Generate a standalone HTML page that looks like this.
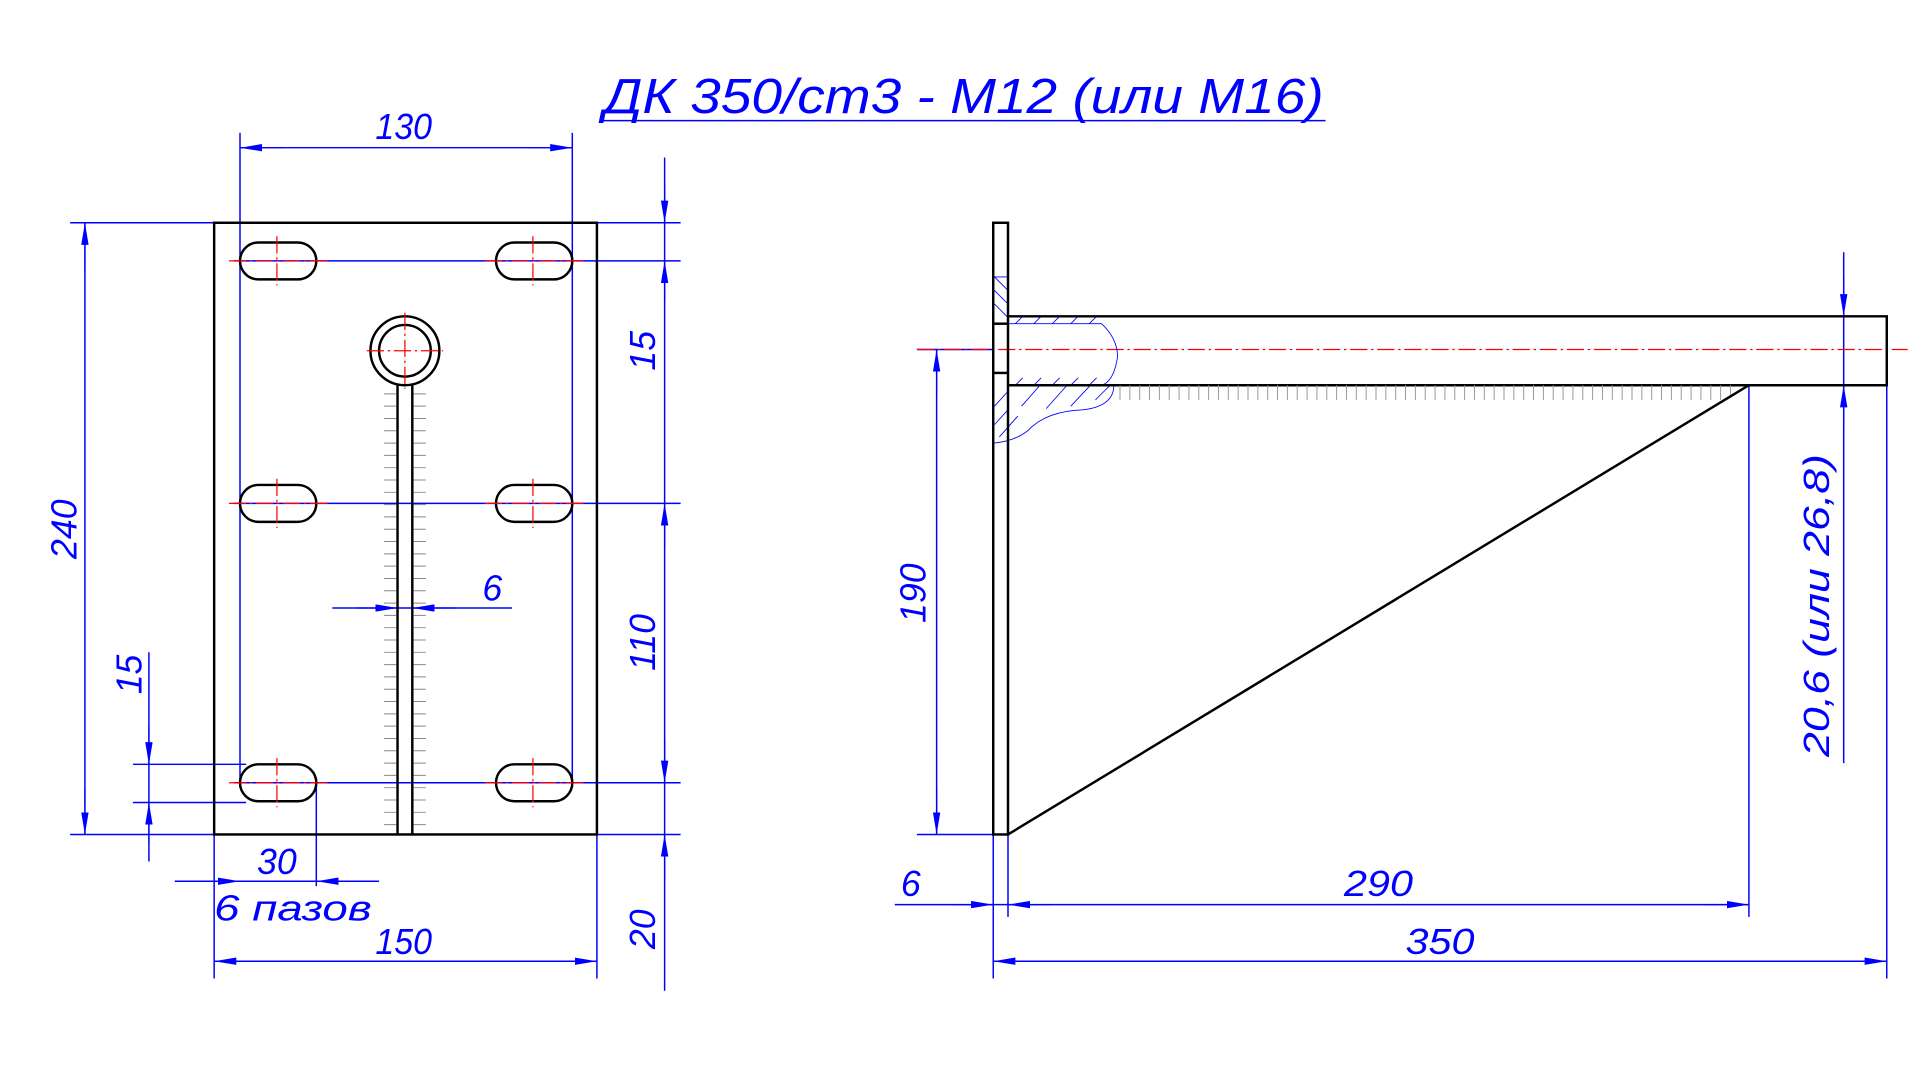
<!DOCTYPE html>
<html><head><meta charset="utf-8"><style>html,body{margin:0;padding:0;background:#fff;}svg{display:block}</style></head>
<body>
<svg width="1920" height="1080" viewBox="0 0 1560 877.5" preserveAspectRatio="none" xmlns="http://www.w3.org/2000/svg">
<defs>
<marker id="a" viewBox="0 0 18 6" refX="18" refY="3" markerWidth="18" markerHeight="6" markerUnits="userSpaceOnUse" orient="auto"><path d="M0,0 L18,3 L0,6 Z" fill="#0000ff"/></marker>
</defs>
<g font-family="Liberation Sans, sans-serif" font-style="italic" fill="#0000ff" font-size="29" text-anchor="middle">
<text x="783" y="92" font-size="40" textLength="585" lengthAdjust="spacingAndGlyphs">ДК 350/ст3 - М12 (или М16)</text>
<text x="328" y="113" textLength="46" lengthAdjust="spacingAndGlyphs">130</text>
<text x="328" y="775" textLength="46" lengthAdjust="spacingAndGlyphs">150</text>
<text x="225" y="710">30</text>
<text x="238" y="748" textLength="128" lengthAdjust="spacingAndGlyphs">6 пазов</text>
<text x="400" y="488">6</text>
<text transform="translate(62,430) rotate(-90)">240</text>
<text transform="translate(115,548) rotate(-90)">15</text>
<text transform="translate(532,285) rotate(-90)">15</text>
<text transform="translate(532,522) rotate(-90)">110</text>
<text transform="translate(532,755) rotate(-90)">20</text>
<text transform="translate(752,482) rotate(-90)">190</text>
<text transform="translate(1486,492) rotate(-90)" textLength="246" lengthAdjust="spacingAndGlyphs">20,6 (или 26,8)</text>
<text x="1120" y="728" textLength="56" lengthAdjust="spacingAndGlyphs">290</text>
<text x="740" y="728">6</text>
<text x="1170" y="775" textLength="56" lengthAdjust="spacingAndGlyphs">350</text>
</g>
<g stroke="#0000ff" stroke-width="1.2" fill="none">
<line x1="490" y1="98" x2="1077" y2="98"/>
<line x1="195" y1="108" x2="195" y2="640"/><line x1="465" y1="108" x2="465" y2="640"/>
<line x1="195" y1="120" x2="465" y2="120"/>
<line x1="174" y1="678" x2="174" y2="795"/><line x1="485" y1="678" x2="485" y2="795"/>
<line x1="174" y1="781" x2="485" y2="781"/>
<line x1="57" y1="181" x2="174" y2="181"/><line x1="57" y1="678" x2="174" y2="678"/>
<line x1="69" y1="181" x2="69" y2="678"/>
<line x1="485" y1="181" x2="553" y2="181"/><line x1="190" y1="212" x2="553" y2="212"/>
<line x1="190" y1="409" x2="553" y2="409"/><line x1="190" y1="636" x2="553" y2="636"/>
<line x1="485" y1="678" x2="553" y2="678"/>
<line x1="540" y1="128" x2="540" y2="805"/>
<line x1="108" y1="621" x2="200" y2="621"/><line x1="108" y1="652" x2="200" y2="652"/>
<line x1="121" y1="530" x2="121" y2="700"/>
<line x1="257" y1="636" x2="257" y2="720"/><line x1="142" y1="716" x2="308" y2="716"/>
<line x1="270" y1="494" x2="416" y2="494"/>
<line x1="745" y1="284" x2="807" y2="284"/><line x1="745" y1="678" x2="807" y2="678"/>
<line x1="761" y1="284" x2="761" y2="678"/>
<line x1="1498" y1="205" x2="1498" y2="620"/>
<line x1="1421" y1="313" x2="1421" y2="745"/><line x1="819" y1="678" x2="819" y2="745"/>
<line x1="807" y1="678" x2="807" y2="795"/><line x1="1533" y1="313" x2="1533" y2="795"/>
<line x1="727" y1="735" x2="1421" y2="735"/>
<line x1="807" y1="781" x2="1533" y2="781"/>
</g>
<g stroke="#0000ff" stroke-width="1" marker-end="url(#a)">
<line x1="230" y1="120" x2="195" y2="120"/><line x1="430" y1="120" x2="465" y2="120"/>
<line x1="210" y1="781" x2="174" y2="781"/><line x1="450" y1="781" x2="485" y2="781"/>
<line x1="69" y1="220" x2="69" y2="181"/><line x1="69" y1="640" x2="69" y2="678"/>
<line x1="540" y1="150" x2="540" y2="181"/><line x1="540" y1="245" x2="540" y2="212"/>
<line x1="540" y1="445" x2="540" y2="409"/><line x1="540" y1="600" x2="540" y2="636"/>
<line x1="540" y1="715" x2="540" y2="678"/>
<line x1="121" y1="590" x2="121" y2="621"/><line x1="121" y1="685" x2="121" y2="652"/>
<line x1="160" y1="716" x2="195" y2="716"/><line x1="290" y1="716" x2="257" y2="716"/>
<line x1="290" y1="494" x2="323" y2="494"/><line x1="370" y1="494" x2="335" y2="494"/>
<line x1="761" y1="320" x2="761" y2="284"/><line x1="761" y1="640" x2="761" y2="678"/>
<line x1="1498" y1="225" x2="1498" y2="257"/><line x1="1498" y1="345" x2="1498" y2="313"/>
<line x1="775" y1="735" x2="807" y2="735"/><line x1="855" y1="735" x2="819" y2="735"/>
<line x1="1385" y1="735" x2="1421" y2="735"/>
<line x1="845" y1="781" x2="807" y2="781"/><line x1="1495" y1="781" x2="1533" y2="781"/>
</g>
<g stroke="#000" stroke-width="2" fill="none">
<rect x="174" y="181" width="311" height="497"/>
<rect x="195" y="197" width="62" height="30" rx="15"/><rect x="403" y="197" width="62" height="30" rx="15"/>
<rect x="195" y="394" width="62" height="30" rx="15"/><rect x="403" y="394" width="62" height="30" rx="15"/>
<rect x="195" y="621" width="62" height="30" rx="15"/><rect x="403" y="621" width="62" height="30" rx="15"/>
<circle cx="329" cy="285" r="28"/><circle cx="329" cy="285" r="21"/>
<line x1="323" y1="312" x2="323" y2="678"/><line x1="335" y1="312" x2="335" y2="678"/>
</g>
<g stroke="#888" stroke-width="0.8">
<path d="M312 320 h10 M336 320 h10 M312 330 h10 M336 330 h10 M312 340 h10 M336 340 h10 M312 350 h10 M336 350 h10 M312 360 h10 M336 360 h10 M312 370 h10 M336 370 h10 M312 380 h10 M336 380 h10 M312 390 h10 M336 390 h10 M312 400 h10 M336 400 h10 M312 410 h10 M336 410 h10 M312 420 h10 M336 420 h10 M312 430 h10 M336 430 h10 M312 440 h10 M336 440 h10 M312 450 h10 M336 450 h10 M312 460 h10 M336 460 h10 M312 470 h10 M336 470 h10 M312 480 h10 M336 480 h10 M312 490 h10 M336 490 h10 M312 500 h10 M336 500 h10 M312 510 h10 M336 510 h10 M312 520 h10 M336 520 h10 M312 530 h10 M336 530 h10 M312 540 h10 M336 540 h10 M312 550 h10 M336 550 h10 M312 560 h10 M336 560 h10 M312 570 h10 M336 570 h10 M312 580 h10 M336 580 h10 M312 590 h10 M336 590 h10 M312 600 h10 M336 600 h10 M312 610 h10 M336 610 h10 M312 620 h10 M336 620 h10 M312 630 h10 M336 630 h10 M312 640 h10 M336 640 h10 M312 650 h10 M336 650 h10 M312 660 h10 M336 660 h10 M312 670 h10 M336 670 h10"/>
</g>
<g stroke="#ff0000" stroke-width="1" stroke-dasharray="14 3 2 3">
<line x1="186" y1="212" x2="266" y2="212"/><line x1="394" y1="212" x2="474" y2="212"/>
<line x1="186" y1="409" x2="266" y2="409"/><line x1="394" y1="409" x2="474" y2="409"/>
<line x1="186" y1="636" x2="266" y2="636"/><line x1="394" y1="636" x2="474" y2="636"/>
<line x1="225" y1="192" x2="225" y2="232"/><line x1="433" y1="192" x2="433" y2="232"/>
<line x1="225" y1="389" x2="225" y2="429"/><line x1="433" y1="389" x2="433" y2="429"/>
<line x1="225" y1="616" x2="225" y2="656"/><line x1="433" y1="616" x2="433" y2="656"/>
<line x1="298" y1="285" x2="360" y2="285"/><line x1="329" y1="254" x2="329" y2="316"/>
<line x1="745" y1="284" x2="1550" y2="284"/>
</g>
<g stroke="#0000ff" stroke-width="0.7" fill="none">
<path d="M819 263 L895 263 Q908 275 908 290 Q905 310 895 313 L819 313"/>
<path d="M819 313 L905 313 Q905 330 880 333 Q850 334 835 350 Q825 358 808 360"/>
<path d="M808 225 L819 225 M808 225 L819 236 M808 236 L819 247 M808 247 L819 258"/>
<path d="M825 263 l6 -6 M840 263 l6 -6 M855 263 l6 -6 M870 263 l6 -6 M885 263 l6 -6 M825 313 l6 -6 M840 313 l6 -6 M855 313 l6 -6 M870 313 l6 -6 M885 313 l6 -6 M830 330 l15 -17 M850 332 l17 -19 M870 330 l16 -17 M890 325 l12 -12 M808 330 l11 -12 M808 345 l11 -12 M812 355 l15 -17"/>
</g>
<g stroke="#000" stroke-width="2" fill="none">
<rect x="807" y="181" width="12" height="497"/>
<path d="M819 257 L1533 257 L1533 313 L819 313"/>
<line x1="807" y1="263" x2="819" y2="263"/><line x1="807" y1="303" x2="819" y2="303"/>
<line x1="819" y1="678" x2="1421" y2="313"/>
</g>
<path d="M910 313 v12 M918 313 v12 M926 313 v12 M934 313 v12 M942 313 v12 M950 313 v12 M958 313 v12 M966 313 v12 M974 313 v12 M982 313 v12 M990 313 v12 M998 313 v12 M1006 313 v12 M1014 313 v12 M1022 313 v12 M1030 313 v12 M1038 313 v12 M1046 313 v12 M1054 313 v12 M1062 313 v12 M1070 313 v12 M1078 313 v12 M1086 313 v12 M1094 313 v12 M1102 313 v12 M1110 313 v12 M1118 313 v12 M1126 313 v12 M1134 313 v12 M1142 313 v12 M1150 313 v12 M1158 313 v12 M1166 313 v12 M1174 313 v12 M1182 313 v12 M1190 313 v12 M1198 313 v12 M1206 313 v12 M1214 313 v12 M1222 313 v12 M1230 313 v12 M1238 313 v12 M1246 313 v12 M1254 313 v12 M1262 313 v12 M1270 313 v12 M1278 313 v12 M1286 313 v12 M1294 313 v12 M1302 313 v12 M1310 313 v12 M1318 313 v12 M1326 313 v12 M1334 313 v12 M1342 313 v12 M1350 313 v12 M1358 313 v12 M1366 313 v12 M1374 313 v12 M1382 313 v12 M1390 313 v12 M1398 313 v12 M1406 313 v8" stroke="#999" stroke-width="0.8"/>
</svg>
</body></html>
